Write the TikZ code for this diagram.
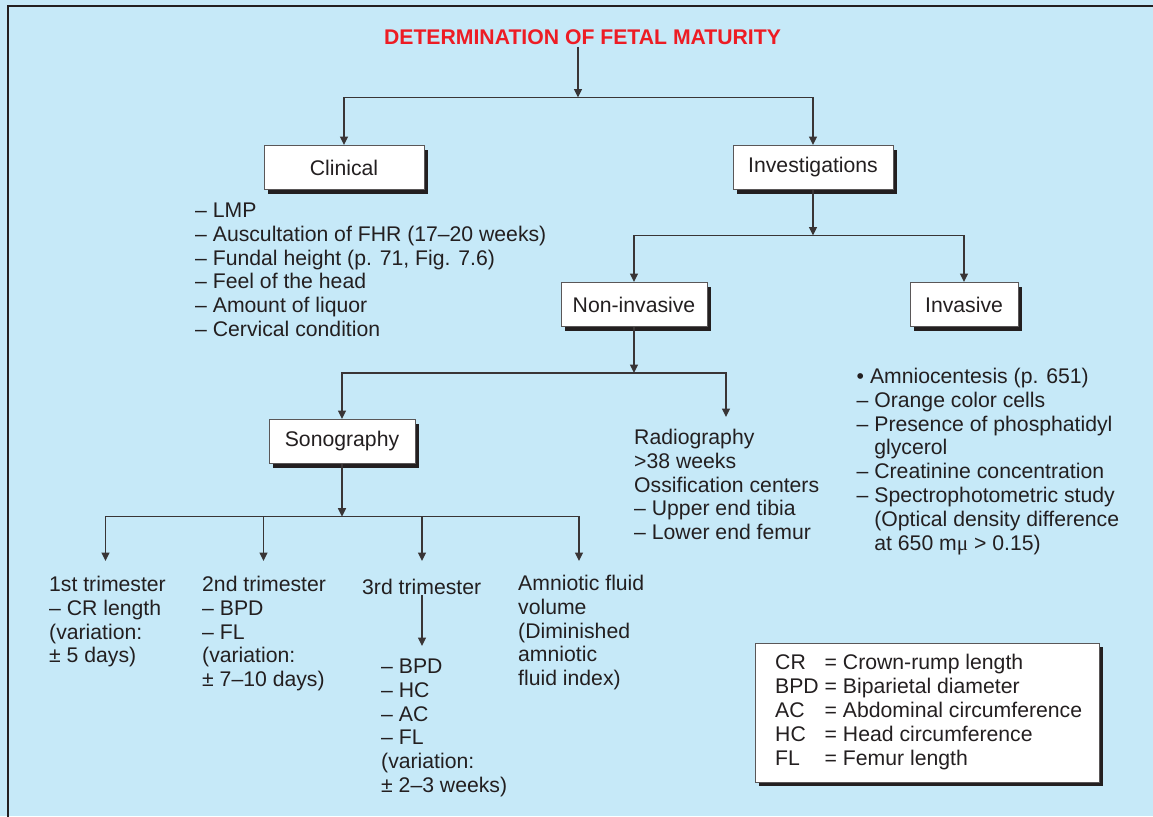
\documentclass[tikz,border=0pt]{standalone}
\usepackage{fontspec}
\setmainfont{Liberation Sans}
\newfontfamily\serifmu{Liberation Serif}
\usetikzlibrary{arrows.meta,shadows}
\definecolor{bg}{RGB}{198,233,248}
\definecolor{ink}{RGB}{35,31,32}
\definecolor{ttl}{RGB}{237,28,36}
\newcommand{\ml}[1]{\begin{tabular}[t]{@{}l@{}}#1\end{tabular}}
\newcommand{\ind}{\hphantom{–}\ }
\begin{document}
\begin{tikzpicture}[x=1pt,y=-1pt,
  every node/.style={font=\fontsize{21.2}{23.8}\selectfont, text=ink},
  box/.style={draw=ink!75, line width=1pt, fill=white, minimum height=44pt, inner sep=0pt,
    general shadow={fill=ink, shadow xshift=4pt, shadow yshift=-4pt}},
  txt/.style={anchor=base west, inner sep=0pt},
  arr/.style={draw=ink!90, line width=1.4pt, -{Triangle[length=8.5pt,width=8pt]}},
  ln/.style={draw=ink!90, line width=1.4pt}]
\useasboundingbox (0,0) rectangle (1153,816);
\fill[bg] (0,0) rectangle (1153,816);
\draw[ink, line width=2.5pt] (8,830) -- (8,6) -- (1170,6);

% title
\node[anchor=base, inner sep=0pt, text=ttl, font=\fontsize{21.2}{24}\selectfont\bfseries] (title) at (582.5,45) {DETERMINATION OF FETAL MATURITY};
\coordinate (j1) at (578,97.5);
\node[box, minimum width=160pt] (clin) at (344,167.5) {Clinical};
\node[box, minimum width=160pt] (inv) at (813,167.5) {Investigations};
\draw[arr, shorten <=1.5pt] (title.south -| j1) -- (j1);
\draw[arr] (j1) -| (clin.north);
\draw[arr] (j1) -| (inv.north);

% clinical list
\node[txt] (clist) at (195,217.5) {\ml{– LMP\\– Auscultation of FHR (17–20 weeks)\\– Fundal height (p. 71, Fig. 7.6)\\– Feel of the head\\– Amount of liquor\\– Cervical condition}};

% investigations
\coordinate (j2) at (813,235.5);
\node[box, minimum width=146pt] (noninv) at (634,304.5) {Non-invasive};
\node[box, minimum width=108pt] (invas) at (964,304.5) {Invasive};
\draw[arr] (inv.south) -- (j2);
\draw[arr] (j2) -| (noninv.north);
\draw[arr] (j2) -| (invas.north);

% invasive list
\node[txt] (ilist) at (856.5,383.5) {\ml{• Amniocentesis (p. 651)\\– Orange color cells\\– Presence of phosphatidyl\\\ind glycerol\\– Creatinine concentration\\– Spectrophotometric study\\\ind (Optical density difference\\\ind at 650 m{\serifmu μ} > 0.15)}};

% non-invasive
\coordinate (j3) at (634,373);
\coordinate (radtop) at (726,417);
\node[box, minimum width=146pt] (sono) at (342,441.5) {Sonography};
\draw[arr] (noninv.south) -- (j3);
\draw[arr] (j3) -| (sono.north);
\draw[arr] (j3) -| (radtop);
\node[txt] (radio) at (634,444.5) {\ml{Radiography\\>38 weeks\\Ossification centers\\– Upper end tibia\\– Lower end femur}};

% sonography branches
\coordinate (j4) at (342,516.7);
\coordinate (t1) at (105.5,561);
\coordinate (t2) at (263.5,561);
\coordinate (t3) at (422,561);
\coordinate (t4) at (579,561);
\draw[arr] (sono.south) -- (j4);
\draw[arr] (j4) -| (t1);
\draw[arr] (j4) -| (t4);
\draw[arr] (j4 -| t2) -- (t2);
\draw[arr] (j4 -| t3) -- (t3);

\node[txt] (tri1) at (49,591.5) {\ml{1st trimester\\– CR length\\(variation:\\± 5 days)}};
\node[txt] (tri2) at (202,591.5) {\ml{2nd trimester\\– BPD\\– FL\\(variation:\\± 7–10 days)}};
\node[txt] (tri3) at (362,594.5) {3rd trimester};
\node[txt] (afv) at (518,590.5) {\ml{Amniotic fluid\\volume\\(Diminished\\amniotic\\fluid index)}};
\coordinate (a3) at (422,646);
\draw[arr] (tri3.south -| a3) -- (a3);
\node[txt] (tri3b) at (381,673.5) {\ml{– BPD\\– HC\\– AC\\– FL\\(variation:\\± 2–3 weeks)}};

% legend
\node[box, anchor=north west, minimum width=344pt, minimum height=139pt] (legbox) at (754.5,642.5) {};
\node[txt] (legtext) at (775,669.8) {\begin{tabular}[t]{@{}l@{\ }l@{}}CR & = Crown-rump length\\BPD & = Biparietal diameter\\AC & = Abdominal circumference\\HC & = Head circumference\\FL & = Femur length\end{tabular}};
\end{tikzpicture}
\end{document}
